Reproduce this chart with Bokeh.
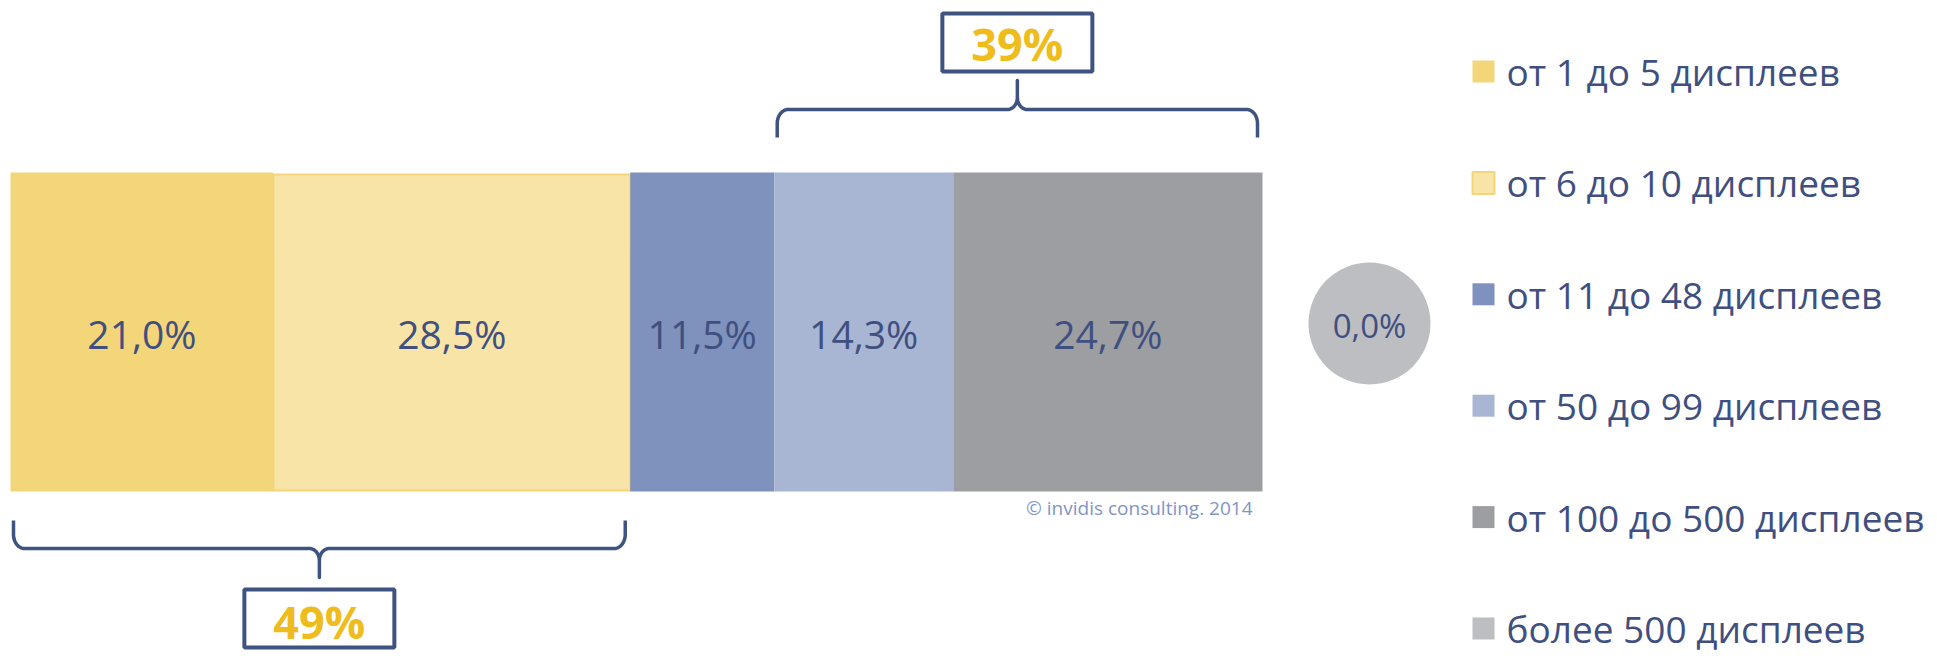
import numpy as np
from bokeh.plotting import figure
from bokeh.models import Range1d
from bokeh.core.properties import value
from bokeh.embed import file_html
from bokeh.resources import INLINE

# ---------------- data ----------------
categories = ["от 1 до 5 дисплеев", "от 6 до 10 дисплеев", "от 11 до 48 дисплеев",
              "от 50 до 99 дисплеев", "от 100 до 500 дисплеев", "более 500 дисплеев"]
shares = [21.0, 28.5, 11.5, 14.3, 24.7, 0.0]
colors = ["#F3D679", "#F7E4A6", "#7F91BD", "#A8B5D3", "#9D9EA2", "#BDBEC2"]
group_members = [[0, 1], [3, 4]]
group_labels = ["49%", "39%"]
group_side = ["below", "above"]
credit = "© invidis consulting.  2014"

# ---------------- layout ----------------
W, H = 1937, 658
X0 = 10.0          # pixel where 0 % starts
K = 12.52          # pixels per percent
BAR_TOP, BAR_BOT = 172, 491
TEXT = "#3F5080"
BRACE = "#3F5381"
YELLOW = "#EFBC1D"
FONT = value("Open Sans")


def px(xpix):
    return (xpix - X0) / K


p = figure(width=W, height=H, output_backend="svg", toolbar_location=None,
           x_range=Range1d(px(0), px(W)), y_range=Range1d(H, 0),
           x_axis_type=None, y_axis_type=None, min_border=0)
p.grid.visible = False
p.outline_line_color = None
p.background_fill_color = "white"
p.border_fill_color = "white"

# ---------------- stacked bar ----------------
bar_vals = shares[:5]
ends = np.cumsum(bar_vals)
starts = ends - np.array(bar_vals)
for i, (s, e) in enumerate(zip(starts, ends)):
    lc = colors[0] if i == 1 else None
    p.quad(left=[s], right=[e], top=[BAR_TOP + (2 if i == 1 else 0)],
           bottom=[BAR_BOT - (1 if i == 1 else 0)],
           fill_color=colors[i], line_color=lc, line_width=2)

labels = [f"{v:.1f}".replace(".", ",") + "%" for v in shares]
p.text(x=list((starts + ends) / 2), y=[333] * 5, text=labels[:5],
       text_font=FONT, text_font_size="39px", text_color=TEXT,
       text_align="center", text_baseline="middle")

# bubble for the last (zero) category
bx = px(1369)
p.scatter(x=[bx], y=[323], size=122, marker="circle",
          fill_color=colors[5], line_color=None)
p.text(x=[bx], y=[325], text=[labels[5]], text_font=FONT, text_font_size="33px",
       text_color=TEXT, text_align="center", text_baseline="middle")

# credit
p.text(x=[px(1257)], y=[507], text=[credit], text_font=FONT, text_font_size="19px",
       text_color="#7F95C6", text_align="right", text_baseline="middle")


# ---------------- braces ----------------
def brace(xa, xb, y_end, y_bar, y_tip, s):
    rx, ry = 11 / K, 14.0
    cx2, cy2 = 10 / K, 12.0
    xc = (xa + xb) / 2
    t = np.linspace(0, np.pi / 2, 16)
    xs = [xa, xa]
    ys = [y_end, y_bar + s * ry]
    xs += list(xa + rx - rx * np.cos(t))
    ys += list(y_bar + s * ry - s * ry * np.sin(t))
    xs += list(xc - cx2 + cx2 * np.sin(t))
    ys += list(y_bar - s * cy2 + s * cy2 * np.cos(t))
    xs += [xc]
    ys += [y_tip]
    left_x = np.array(xs)
    left_y = np.array(ys)
    right_x = 2 * xc - left_x[::-1]
    right_y = left_y[::-1]
    return list(left_x) + list(right_x[1:]), list(left_y) + list(right_y[1:])


for members, lab, side in zip(group_members, group_labels, group_side):
    xa = starts[members[0]] + 3 / K
    xb = ends[members[-1]] - 5 / K
    xc = (xa + xb) / 2
    if side == "above":
        bxs, bys = brace(xa, xb, 137, 109, 80, +1)
        box_y, text_y = 42, 43
    else:
        bxs, bys = brace(xa, xb, 520, 548, 577, -1)
        box_y, text_y = 618, 621
    p.line(bxs, bys, line_color=BRACE, line_width=3.5, line_join="round")
    p.rect(x=[xc], y=[box_y], width=150, height=58, width_units="screen",
           height_units="screen", fill_color="white", line_color=BRACE, line_width=4)
    p.text(x=[xc], y=[text_y], text=[lab], text_font=FONT, text_font_size="45px",
           text_font_style="bold", text_color=YELLOW, text_align="center",
           text_baseline="middle")

# ---------------- legend ----------------
for i, (cat, col) in enumerate(zip(categories, colors)):
    mid = 71 + i * 111.4
    p.rect(x=[px(1483)], y=[mid], width=22, height=22,
           width_units="screen", height_units="screen", fill_color=col,
           line_color=colors[0] if i == 1 else None, line_width=2)
    p.text(x=[px(1506)], y=[mid], text=[cat], text_font=FONT, text_font_size="37px",
           text_color=TEXT, text_align="left", text_baseline="middle")

open("out.html", "w").write(file_html(p, INLINE))
